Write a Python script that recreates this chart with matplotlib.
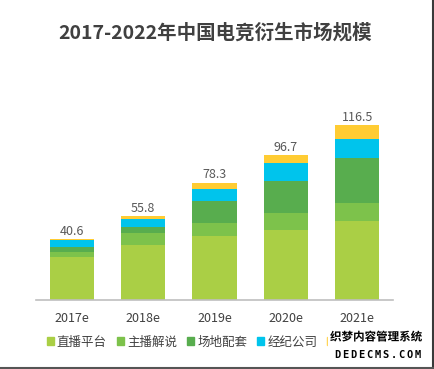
import numpy as np
import matplotlib.pyplot as plt
import matplotlib.patheffects as pe
from matplotlib.patches import Patch

plt.rcParams['font.family'] = ['Noto Sans CJK SC', 'DejaVu Sans']

years = ['2017e', '2018e', '2019e', '2020e', '2021e']
totals = [40.6, 55.8, 78.3, 96.7, 116.5]
series_names = ['直播平台', '主播解说', '场地配套', '经纪公司', '其他收入']
platform = [28.5, 36.6, 42.4, 46.6, 52.4]
commentary = [3.8, 7.8, 8.9, 11.1, 12.2]
venue = [3.3, 4.4, 15.0, 21.6, 30.1]
agency = [4.3, 5.5, 7.6, 11.8, 12.9]
other = [0.7, 1.5, 4.4, 5.6, 8.9]
colors = ['#aacf45', '#7dc24b', '#58ad4e', '#00c4ec', '#ffcc33']

fig = plt.figure(figsize=(4.35, 3.69), dpi=100)
ax = fig.add_axes([36 / 435, 69 / 369, 357 / 435, 210 / 369])

x = np.arange(len(years))
bottom = np.zeros(len(years))
for vals, name, c in zip([platform, commentary, venue, agency, other], series_names, colors):
    ax.bar(x, vals, width=0.62, bottom=bottom, color=c, label=name)
    bottom += np.array(vals)

for xi, top, t in zip(x, bottom, totals):
    ax.annotate(f'{t:.1f}', (xi, top), xytext=(0, 1), textcoords='offset points',
                ha='center', va='bottom', fontsize=9, color='#595959')

ax.set_xlim(-0.5, 4.5)
ax.set_ylim(0, 140)
ax.set_xticks(x)
ax.set_xticklabels(years, fontsize=9, color='#404040')
ax.tick_params(axis='x', length=0, pad=9)
ax.set_yticks([])
for s in ['top', 'left', 'right']:
    ax.spines[s].set_visible(False)
ax.spines['bottom'].set_color('#bfbfbf')
ax.spines['bottom'].set_linewidth(1.2)

fig.text(215 / 435, 1 - 33 / 369, '2017-2022年中国电竞衍生市场规模', ha='center', va='center',
         fontsize=14, fontweight='bold', color='#404040')

handles = [Patch(color=c) for c in colors]
fig.legend(handles, series_names, loc='center', bbox_to_anchor=(217 / 435, 1 - 342 / 369),
           ncol=5, frameon=False, fontsize=9, handlelength=0.56, handleheight=0.56,
           handletextpad=0.25, columnspacing=0.8, labelcolor='#404040')

# watermark over the last legend entry
fig.add_artist(plt.Rectangle((328 / 435, 1 - 362 / 369), 97 / 435, 33 / 369,
                             transform=fig.transFigure, color='white', zorder=10))
stroke = [pe.withStroke(linewidth=2, foreground='white')]
fig.text(376 / 435, 1 - 337 / 369, '织梦内容管理系统', ha='center', va='center', fontsize=8.3,
         fontweight='bold', color='black', path_effects=stroke, zorder=11)
for i, ch in enumerate('DEDECMS.COM'):
    fig.text((337 + i * 8.1) / 435, 1 - 355 / 369, ch, ha='center', va='center', fontsize=7.5,
             fontweight='bold', family='DejaVu Sans Mono', color='black', zorder=11)

# frame edges on right and bottom
fig.add_artist(plt.Line2D([433.5 / 435, 433.5 / 435], [1.5 / 369, 1], transform=fig.transFigure,
                          color='#3a3a3a', linewidth=1.5))
fig.add_artist(plt.Line2D([0, 434 / 435], [1.5 / 369, 1.5 / 369], transform=fig.transFigure,
                          color='#555555', linewidth=1.5))

fig.savefig('out.png', dpi=100)
